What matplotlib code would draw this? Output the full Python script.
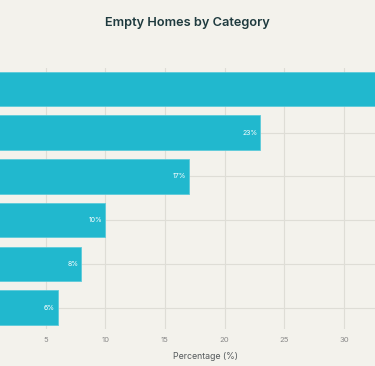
import matplotlib
matplotlib.use("Agg")
import matplotlib.pyplot as plt

categories = ["Long-term vacant", "Between occupants", "Second homes",
              "Under renovation", "Awaiting sale", "Other"]
values = [36, 23, 17, 10, 8, 6]
xticks = [5, 10, 15, 20, 25, 30]

BG = "#F3F2EC"
BAR = "#21B8CE"

fig = plt.figure(figsize=(3.75, 3.66), dpi=100, facecolor=BG)
W, H = 375, 366
x0_px, x1_px = -14, 375
ax = fig.add_axes([x0_px / W, (H - 328.5) / H, (x1_px - x0_px) / W, (328.5 - 68) / H])
ax.set_facecolor(BG)
xmax = (375 + 14) / 11.93

ypos = list(range(len(categories)))
ax.barh(ypos, values, height=0.79, color=BAR, edgecolor="#5CCBDA", linewidth=0.6, zorder=2)
for y, v in zip(ypos, values):
    if v < xmax:
        ax.text(v - 0.25, y, f"{v}%", ha="right", va="center", color="white",
                fontsize=5, family="Inter", zorder=3)

ax.set_xlim(0, xmax)
ax.set_ylim(len(categories) - 0.52, -0.48)
ax.set_yticks(ypos)
ax.set_yticklabels(categories)
ax.tick_params(axis="y", left=False, labelleft=False)
ax.set_xticks(xticks)
ax.set_xticklabels([str(t) for t in xticks])
ax.tick_params(axis="x", bottom=False, labelsize=5.5, labelcolor="#8a8a8a", pad=2.5)
for lab in ax.get_xticklabels():
    lab.set_family("Inter")
ax.grid(True, color="#DEDDD6", linewidth=0.8, zorder=0)
ax.set_axisbelow(True)
for s in ax.spines.values():
    s.set_visible(False)

fig.text(205.5 / W, 1 - 356.5 / H, "Percentage (%)", ha="center", va="center",
         fontsize=6.3, color="#555a5c", family="Inter")
fig.text(187.5 / W, 1 - 23 / H, "Empty Homes by Category", ha="center", va="center",
         fontsize=9.2, color="#1E3A3E", family="Inter", fontweight="semibold")

fig.savefig("out.png", dpi=100, facecolor=BG)
